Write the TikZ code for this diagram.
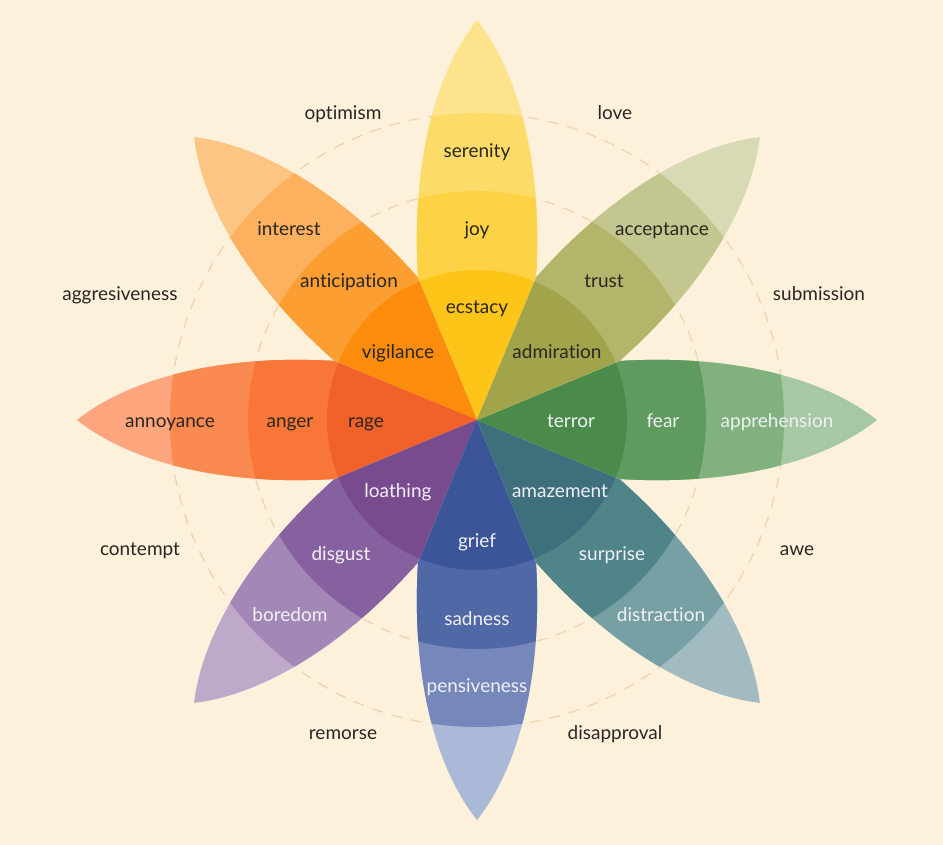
\documentclass[tikz,border=0pt]{standalone}
\usepackage{fontspec}
\setmainfont{Lato}[Ligatures={NoCommon}]
\definecolor{bg}{HTML}{FDF1DC}
\definecolor{ringc}{HTML}{EDD5B0}
\definecolor{dk}{HTML}{2A2622}
\definecolor{lt}{HTML}{F1F0F6}
% yellow
\definecolor{ya}{HTML}{FCE38C}
\definecolor{yb}{HTML}{FDDB68}
\definecolor{yc}{HTML}{FDD244}
\definecolor{yd}{HTML}{FDC518}
% orange
\definecolor{oa}{HTML}{FDC584}
\definecolor{ob}{HTML}{FDB15F}
\definecolor{oc}{HTML}{FD9E33}
\definecolor{od}{HTML}{FC8C0C}
% red
\definecolor{ra}{HTML}{FDA57C}
\definecolor{rb}{HTML}{FB8A52}
\definecolor{rc}{HTML}{F87637}
\definecolor{rd}{HTML}{F1622B}
% purple
\definecolor{pa}{HTML}{BFA9CB}
\definecolor{pb}{HTML}{A287B7}
\definecolor{pc}{HTML}{87619F}
\definecolor{pd}{HTML}{784A8E}
% blue
\definecolor{ba}{HTML}{ABB9D8}
\definecolor{bb}{HTML}{7688BB}
\definecolor{bc}{HTML}{5068A6}
\definecolor{bd}{HTML}{3C5598}
% teal
\definecolor{ta}{HTML}{A1BBC0}
\definecolor{tb}{HTML}{77A0A5}
\definecolor{tc}{HTML}{4F8489}
\definecolor{td}{HTML}{3D6F7C}
% green
\definecolor{ga}{HTML}{A6C9A4}
\definecolor{gb}{HTML}{81B17F}
\definecolor{gc}{HTML}{5F9B5E}
\definecolor{gd}{HTML}{4A8B4B}
% olive
\definecolor{la}{HTML}{D7DAB5}
\definecolor{lb}{HTML}{C3C68F}
\definecolor{lc}{HTML}{B3B56B}
\definecolor{ld}{HTML}{A2A44B}
\begin{document}
\begin{tikzpicture}[x=1pt,y=1pt,
  ring/.style={draw=ringc, line width=1.3pt, dash pattern=on 11pt off 9pt},
  lbl/.style={font=\fontsize{19}{22}\selectfont, text=dk, inner sep=0pt,
    text height=9.6pt, text depth=0pt, yshift=-3pt},
  lblw/.style={lbl, text=lt}]
\fill[bg] (-477,-425) rectangle (466,420);
\useasboundingbox (-477,-425) rectangle (466,420);
\draw[ring] (0,0) circle (229);
\draw[ring] (0,0) circle (307);
\foreach \a/\ca/\cb/\cc/\cd in {0/ya/yb/yc/yd, 45/oa/ob/oc/od, 90/ra/rb/rc/rd, 135/pa/pb/pc/pd, 180/ba/bb/bc/bd, 225/ta/tb/tc/td, 270/ga/gb/gc/gd, 315/la/lb/lc/ld}{
  \begin{scope}[rotate=\a]
    \clip (0,0) -- (59,143) .. controls (66,260) and (40,350) .. (0,400)
      .. controls (-40,350) and (-66,260) .. (-59,143) -- cycle;
    \fill[\ca] (0,0) circle (410);
    \fill[\cb] (0,0) circle (307);
    \fill[\cc] (0,0) circle (229);
    \fill[\cd] (0,0) circle (150);
  \end{scope}
}
% labels on petals
\node[lbl] (serenity) at (0,270) {serenity};
\node[lbl] (joy) at (0,192) {joy};
\node[lbl] (ecstacy) at (0,114) {ecstacy};
\node[lbl] (interest) at (-188,192) {interest};
\node[lbl] (anticipation) at (-128,140) {anticipation};
\node[lbl] (vigilance) at (-79,69) {vigilance};
\node[lbl] (annoyance) at (-307,0) {annoyance};
\node[lbl] (anger) at (-187,0) {anger};
\node[lbl] (rage) at (-111,0) {rage};
\node[lblw] (loathing) at (-79,-70) {loathing};
\node[lblw] (disgust) at (-136,-133) {disgust};
\node[lblw] (boredom) at (-187,-194) {boredom};
\node[lblw] (grief) at (0,-120) {grief};
\node[lblw] (sadness) at (0,-198) {sadness};
\node[lblw] (pensiveness) at (0,-265) {pensiveness};
\node[lblw] (amazement) at (83,-70) {amazement};
\node[lblw] (surprise) at (135,-133) {surprise};
\node[lblw] (distraction) at (184,-194) {distraction};
\node[lblw] (terror) at (94,0) {terror};
\node[lblw] (fear) at (186,0) {fear};
\node[lblw] (apprehension) at (300,0) {apprehension};
\node[lbl] (admiration) at (80,69) {admiration};
\node[lbl] (trust) at (127,140) {trust};
\node[lbl] (acceptance) at (185,192) {acceptance};
% outer labels
\node[lbl] (optimism) at (-134,308) {optimism};
\node[lbl] (love) at (138,308) {love};
\node[lbl] (aggresiveness) at (-357,127) {aggresiveness};
\node[lbl] (submission) at (342,127) {submission};
\node[lbl] (contempt) at (-337,-128) {contempt};
\node[lbl] (awe) at (320,-128) {awe};
\node[lbl] (remorse) at (-134,-312) {remorse};
\node[lbl] (disapproval) at (138,-312) {disapproval};
\end{tikzpicture}
\end{document}
